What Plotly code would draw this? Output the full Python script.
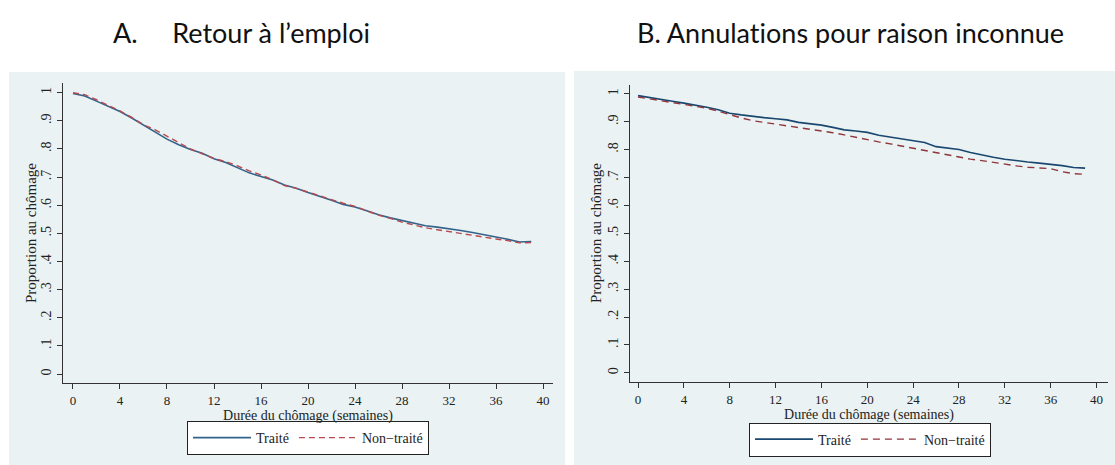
import plotly.graph_objects as go

weeks = [0, 1, 2, 3, 4, 5, 6, 7, 8, 9, 10, 11, 12, 13, 14, 15, 16, 17, 18, 19,
         20, 21, 22, 23, 24, 25, 26, 27, 28, 29, 30, 31, 32, 33, 34, 35, 36, 37, 38, 39]

# Panel A : Retour à l'emploi
a_traite = [0.997, 0.988, 0.970, 0.952, 0.933, 0.910, 0.885, 0.862, 0.835, 0.815,
            0.798, 0.785, 0.765, 0.752, 0.733, 0.715, 0.702, 0.690, 0.672, 0.660,
            0.645, 0.632, 0.618, 0.603, 0.594, 0.580, 0.566, 0.555, 0.545, 0.535,
            0.527, 0.522, 0.517, 0.510, 0.503, 0.495, 0.488, 0.479, 0.469, 0.471]
a_non_traite = [1.000, 0.993, 0.975, 0.955, 0.935, 0.912, 0.886, 0.868, 0.845, 0.820,
                0.800, 0.783, 0.766, 0.755, 0.740, 0.722, 0.708, 0.690, 0.670, 0.660,
                0.646, 0.632, 0.620, 0.607, 0.596, 0.580, 0.565, 0.553, 0.540, 0.530,
                0.520, 0.513, 0.506, 0.500, 0.493, 0.487, 0.480, 0.474, 0.466, 0.467]

# Panel B : Annulations pour raison inconnue
b_traite = [0.994, 0.988, 0.981, 0.974, 0.967, 0.960, 0.952, 0.943, 0.931, 0.925,
            0.919, 0.915, 0.911, 0.907, 0.898, 0.894, 0.888, 0.880, 0.871, 0.867,
            0.862, 0.852, 0.845, 0.840, 0.832, 0.826, 0.811, 0.805, 0.801, 0.790,
            0.781, 0.773, 0.766, 0.760, 0.756, 0.752, 0.748, 0.743, 0.736, 0.734]
b_non_traite = [0.989, 0.982, 0.976, 0.970, 0.963, 0.956, 0.949, 0.938, 0.925, 0.914,
                0.904, 0.898, 0.892, 0.886, 0.880, 0.873, 0.867, 0.861, 0.853, 0.844,
                0.835, 0.828, 0.821, 0.813, 0.805, 0.797, 0.789, 0.780, 0.772, 0.766,
                0.761, 0.754, 0.748, 0.742, 0.737, 0.735, 0.732, 0.721, 0.714, 0.712]

x_ticks = [0, 4, 8, 12, 16, 20, 24, 28, 32, 36, 40]
y_ticks = [0, 0.1, 0.2, 0.3, 0.4, 0.5, 0.6, 0.7, 0.8, 0.9, 1]
y_tick_labels = ["0", ".1", ".2", ".3", ".4", ".5", ".6", ".7", ".8", ".9", "1"]

titles = ["A.\u00a0\u00a0\u00a0\u00a0\u00a0Retour à l\u2019emploi",
          "B. Annulat\u200cions pour raison inconnue"]
x_title = "Durée du chômage (semaines)"
y_title = "Proportion au chômage"
series_names = ["Traité", "Non\u2212traité"]

W, H = 1115, 465
SERIF = "Liberation Serif"
BG = "#eaf2f3"
TXT = "#222222"

fig = go.Figure()
fig.add_trace(go.Scatter(x=weeks, y=a_traite, mode="lines", name=series_names[0],
                         line=dict(color="#33638a", width=1.6), xaxis="x", yaxis="y", legend="legend"))
fig.add_trace(go.Scatter(x=weeks, y=a_non_traite, mode="lines", name=series_names[1],
                         line=dict(color="#b8494f", width=1.4, dash="6px,4px"), xaxis="x", yaxis="y", legend="legend"))
fig.add_trace(go.Scatter(x=weeks, y=b_traite, mode="lines", name=series_names[0],
                         line=dict(color="#1a476f", width=1.6), xaxis="x2", yaxis="y2", legend="legend2"))
fig.add_trace(go.Scatter(x=weeks, y=b_non_traite, mode="lines", name=series_names[1],
                         line=dict(color="#90353b", width=1.4, dash="7px,5px"), xaxis="x2", yaxis="y2", legend="legend2"))


def px(v):
    return v / W


def py(v):
    return 1 - v / H


axis_common = dict(showline=True, linecolor="#333333", linewidth=1, ticks="outside", ticklen=5,
                   tickcolor="#333333", zeroline=False, mirror=False)
xtick_font = dict(family=SERIF, size=13, color=TXT)
ytick_font = dict(family=SERIF, size=14, color=TXT)
title_font = dict(family=SERIF, size=14, color=TXT)
ytitle_font = dict(family=SERIF, size=15, color=TXT)
legend_common = dict(orientation="h", xanchor="center", yanchor="middle",
                     bgcolor="white", bordercolor="#222", borderwidth=1,
                     font=dict(family=SERIF, size=14, color=TXT), itemwidth=58)

fig.update_layout(
    width=W, height=H,
    margin=dict(l=0, r=0, t=0, b=0),
    paper_bgcolor="white", plot_bgcolor="white",
    showlegend=True,
    xaxis=dict(domain=[px(63), px(553)], range=[-0.85, 40.85], tickvals=x_ticks, showgrid=False,
               anchor="y", tickfont=xtick_font,
               title=dict(text=x_title, font=title_font, standoff=1), **axis_common),
    yaxis=dict(domain=[py(383), py(83)], range=[-0.032, 1.0345], tickvals=y_ticks, ticktext=y_tick_labels,
               tickangle=-90, showgrid=True, gridcolor=BG, gridwidth=1, anchor="x",
               tickfont=ytick_font, **axis_common),
    xaxis2=dict(domain=[px(630), px(1108)], range=[-0.70, 41.0], tickvals=x_ticks, showgrid=False,
                anchor="y2", tickfont=xtick_font,
                title=dict(text=x_title, font=title_font, standoff=1), **axis_common),
    yaxis2=dict(domain=[py(382), py(85)], range=[-0.033, 1.032], tickvals=y_ticks, ticktext=y_tick_labels,
                tickangle=-90, showgrid=True, gridcolor=BG, gridwidth=1, anchor="x2",
                tickfont=ytick_font, **axis_common),
    legend=dict(x=px(308), y=py(438), **legend_common),
    legend2=dict(x=px(870), y=py(439.5), **legend_common),
    shapes=[
        dict(type="rect", xref="paper", yref="paper", x0=px(9), x1=px(565), y0=py(465), y1=py(72),
             fillcolor=BG, line=dict(width=0), layer="below"),
        dict(type="rect", xref="paper", yref="paper", x0=px(574), x1=px(1115), y0=py(465), y1=py(71),
             fillcolor=BG, line=dict(width=0), layer="below"),
    ],
    annotations=[
        dict(text=titles[0], x=px(241), y=py(32), xref="paper", yref="paper", showarrow=False,
             xanchor="center", yanchor="middle", font=dict(family="Lato", size=27, color="#111")),
        dict(text=titles[1], x=px(850), y=py(32), xref="paper", yref="paper", showarrow=False,
             xanchor="center", yanchor="middle", font=dict(family="Lato", size=27, color="#111")),
        dict(text=y_title, x=px(31), y=py(233), xref="paper", yref="paper", showarrow=False,
             textangle=-90, xanchor="center", yanchor="middle", font=ytitle_font),
        dict(text=y_title, x=px(596), y=py(233), xref="paper", yref="paper", showarrow=False,
             textangle=-90, xanchor="center", yanchor="middle", font=ytitle_font),
    ],
)

fig.write_html("out.html", config={"displayModeBar": False},
               post_script="document.body.style.margin='0';document.body.style.padding='0';")
